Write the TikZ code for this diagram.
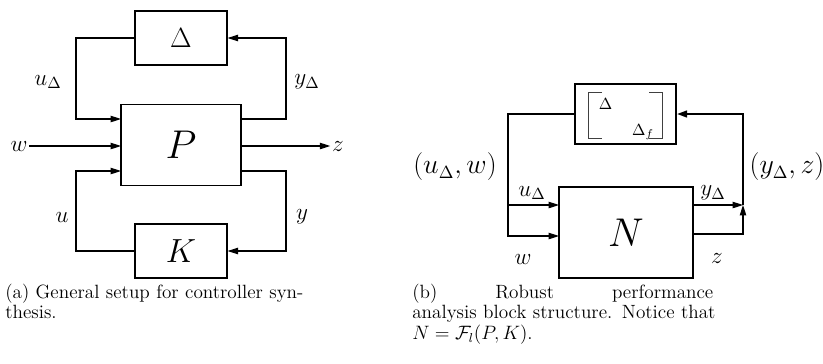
\documentclass[tikz,border=0pt]{standalone}
\usepackage{amsmath}
\usetikzlibrary{arrows.meta,calc}
\newcommand{\px}{0.62pt}
\tikzset{
  >={Triangle[length=6.5pt,width=4pt]},
  sig/.style={->,line width=0.7pt},
  bus/.style={line width=1.8pt},
  block/.style={draw,line width=0.7pt,inner sep=0pt,minimum width=#1},
  lbl/.style={font=\Large,inner sep=1pt},
  captext/.style={anchor=base west,align=left,inner sep=0pt,text width=301*\px,
    font=\fontsize{11.9}{12.8}\selectfont},
}
\begin{document}
\begin{tikzpicture}[x=\px,y=-\px]
        \useasboundingbox (0,0) rectangle (823,363);
        % (a) general setup
        \node[block=92*\px,minimum height=54*\px,font=\LARGE] (delta) at (181,38) {$\Delta$};
        \node[block=120*\px,minimum height=81*\px,font=\Huge] (P) at (181,145) {$P$};
        \node[block=92*\px,minimum height=54*\px,font=\huge] (K) at (181,251) {$K$};
        \coordinate (pin1) at (121,119); \coordinate (pin2) at (121,146); \coordinate (pin3) at (121,171);
        \coordinate (pout1) at (241,119); \coordinate (pout2) at (241,146); \coordinate (pout3) at (241,171);
        \coordinate (lcol) at (76,0); \coordinate (rcol) at (286,0);
        \node[lbl] (w) at (19,146) {$w$};
        \node[lbl] (z) at (338,146) {$z$};
        \draw[sig] (delta.west) -| (lcol |- pin1) -- (pin1);
        \draw[sig] (w) -- (pin2);
        \draw[sig] (K.west) -| (lcol |- pin3) -- (pin3);
        \draw[sig] (pout1) -| (rcol |- delta) -- (delta.east);
        \draw[sig] (pout2) -- (z);
        \draw[sig] (pout3) -| (rcol |- K) -- (K.east);
        \node[lbl] (udl) at (48,82) {$u_\Delta$};
        \node[lbl] (ydl) at (307,82) {$y_\Delta$};
        \node[lbl] (ul) at (62,217) {$u$};
        \node[lbl] (yl) at (302,217) {$y$};
        % (b) robust performance
        \node[block=101*\px,minimum height=60*\px] (blk) at (625.5,114) {};
        \draw[line width=0.6pt,black!75] (602,92) -| (588,138) -- (602,138);
        \draw[line width=0.6pt,black!75] (649,92) -| (662,138) -- (649,138);
        \node[inner sep=0pt,anchor=base] (dl) at (605.5,109) {$\Delta$};
        \node[inner sep=0pt,anchor=base] (dlf) at (643,135) {$\Delta_f$};
        \node[block=134*\px,minimum height=91*\px,font=\Huge] (N) at (626,232.5) {$N$};
        \coordinate (nin1) at (559,205); \coordinate (nin2) at (559,236);
        \coordinate (nout1) at (693,205); \coordinate (nout2) at (693,234);
        \coordinate (ljoin) at (508,205); \coordinate (rjoin) at (743,205);
        \draw[bus] (blk.west) -| (ljoin);
        \draw[sig] (ljoin) -- (nin1);
        \draw[sig] (ljoin) |- (nin2);
        \draw[sig] (nout1) -- (rjoin);
        \draw[sig] (nout2) -| (rjoin);
        \draw[bus,->] (rjoin) |- (blk.east);
        \node[font=\fontsize{16}{19}\selectfont] (uw) at (455,167) {$(u_\Delta,w)$};
        \node[font=\fontsize{16}{19}\selectfont] (yz) at (787,167) {$(y_\Delta,z)$};
        \node[lbl] (nul) at (532,193) {$u_\Delta$};
        \node[lbl] (nwl) at (523,259) {$w$};
        \node[lbl] (nyl) at (713,193) {$y_\Delta$};
        \node[lbl] (nzl) at (717,258) {$z$};
        % captions
        \node[captext] (capa) at (5,298) {(a) General setup for controller syn-\\thesis.};
        \node[captext] (capb) at (412,298) {(b)\hfill Robust\hfill performance\\\mbox{analysis block structure. Notice that}\\$N=\mathcal{F}_l(P,K)$.};
\end{tikzpicture}
\end{document}
